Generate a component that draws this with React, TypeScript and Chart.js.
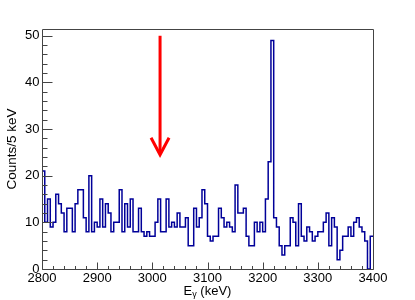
import { useEffect, useRef } from "react";
import { Chart, registerables } from "chart.js";

Chart.register(...registerables);

// Histogram: 5 keV bins from 2800 to 3400 keV
const BIN_START = 2800;
const BIN_WIDTH = 5;
const COUNTS = [
  21, 10, 15, 9, 10, 16, 14, 12, 8, 13,
  13, 8, 14, 17, 17, 11, 8, 20, 8, 10,
  9, 15, 9, 14, 12, 8, 10, 10, 17, 8,
  14, 9, 15, 8, 8, 13, 8, 7, 8, 7,
  7, 10, 15, 8, 8, 15, 9, 10, 9, 12,
  9, 9, 11, 5, 5, 13, 9, 11, 17, 14,
  7, 6, 7, 7, 13, 11, 9, 10, 9, 8,
  18, 12, 12, 13, 7, 5, 5, 10, 8, 10,
  8, 15, 23, 49, 11, 9, 5, 3, 5, 5,
  11, 10, 5, 14, 7, 6, 9, 8, 6, 7,
  8, 8, 10, 12, 5, 11, 9, 2, 4, 7,
  7, 9, 7, 10, 11, 9, 8, 6, 0, 7,
];

const X_MIN = 2800;
const X_MAX = 3400;
const Y_MIN = 0;
const Y_MAX = 51.45;
const X_MAJOR_TICKS = [2800, 2900, 3000, 3100, 3200, 3300, 3400];
const X_MINOR_STEP = 20;
const Y_MAJOR_TICKS = [0, 10, 20, 30, 40, 50];
const Y_MINOR_STEP = 2;

const X_TITLE_MAIN = "E";
const X_TITLE_SUB = "γ";
const X_TITLE_REST = " (keV)";
const Y_TITLE = "Counts/5 keV";

// Red arrow marker (energy, from count to count)
const ARROW_E = 3014;
const ARROW_FROM = 50;
const ARROW_TO = 24.5;

const FONT = "'Liberation Sans', Arial, Helvetica, sans-serif";

const framePlugin = {
  id: "rootFrame",
  afterDraw(chart: any) {
    const { ctx, chartArea, scales } = chart;
    const xs = scales.x;
    const ys = scales.y;
    const L = Math.round(chartArea.left) + 0.5;
    const R = Math.round(chartArea.right) + 0.5;
    const T = Math.round(chartArea.top) + 0.5;
    const B = Math.round(chartArea.bottom) + 0.5;

    // red arrow
    ctx.save();
    const ax = xs.getPixelForValue(ARROW_E);
    const ay1 = ys.getPixelForValue(ARROW_FROM);
    const ay2 = ys.getPixelForValue(ARROW_TO);
    ctx.strokeStyle = "#ff0000";
    ctx.lineWidth = 3;
    ctx.lineCap = "butt";
    ctx.lineJoin = "miter";
    ctx.beginPath();
    ctx.moveTo(ax, ay1);
    ctx.lineTo(ax, ay2 - 1);
    ctx.stroke();
    ctx.beginPath();
    ctx.moveTo(ax - 9, ay2 - 17);
    ctx.lineTo(ax, ay2);
    ctx.lineTo(ax + 9, ay2 - 17);
    ctx.stroke();
    ctx.restore();

    ctx.save();
    ctx.strokeStyle = "#444";
    ctx.lineWidth = 1;
    ctx.beginPath();
    ctx.rect(L, T, R - L, B - T);
    ctx.stroke();

    // x ticks
    ctx.beginPath();
    for (let v = X_MIN; v <= X_MAX + 1e-6; v += X_MINOR_STEP) {
      const px = Math.round(xs.getPixelForValue(v)) + 0.5;
      const major = X_MAJOR_TICKS.includes(v);
      ctx.moveTo(px, B);
      ctx.lineTo(px, B - (major ? 7 : 3.5));
    }
    // y ticks
    for (let v = Y_MIN; v <= Y_MAX + 1e-6; v += Y_MINOR_STEP) {
      const py = Math.round(ys.getPixelForValue(v)) + 0.5;
      const major = Y_MAJOR_TICKS.includes(v);
      ctx.moveTo(L, py);
      ctx.lineTo(L + (major ? 10 : 5), py);
    }
    ctx.stroke();

    ctx.fillStyle = "#000";
    ctx.font = `13px ${FONT}`;
    ctx.textAlign = "center";
    ctx.textBaseline = "top";
    X_MAJOR_TICKS.forEach((v) => {
      ctx.fillText(String(v), xs.getPixelForValue(v), B + 2.5);
    });
    ctx.textAlign = "right";
    ctx.textBaseline = "middle";
    Y_MAJOR_TICKS.forEach((v) => {
      ctx.fillText(String(v), L - 3, ys.getPixelForValue(v));
    });

    // x title
    const cx = (chartArea.left + chartArea.right) / 2;
    ctx.textBaseline = "alphabetic";
    ctx.textAlign = "left";
    const mainFont = `13px ${FONT}`;
    const subFont = `9px ${FONT}`;
    ctx.font = mainFont;
    const w1 = ctx.measureText(X_TITLE_MAIN).width;
    const w3 = ctx.measureText(X_TITLE_REST).width;
    ctx.font = subFont;
    const w2 = ctx.measureText(X_TITLE_SUB).width;
    let tx = cx - (w1 + w2 + w3) / 2;
    const base = 294.5;
    ctx.font = mainFont;
    ctx.fillText(X_TITLE_MAIN, tx, base);
    tx += w1;
    ctx.font = subFont;
    ctx.fillText(X_TITLE_SUB, tx, base + 2);
    tx += w2;
    ctx.font = mainFont;
    ctx.fillText(X_TITLE_REST, tx, base);

    // y title
    ctx.translate(12, (chartArea.top + chartArea.bottom) / 2);
    ctx.rotate(-Math.PI / 2);
    ctx.textAlign = "center";
    ctx.textBaseline = "middle";
    ctx.font = `13.5px ${FONT}`;
    ctx.fillText(Y_TITLE, 0, 0);
    ctx.restore();
  },
};

export default function App() {
  const ref = useRef<HTMLCanvasElement | null>(null);
  useEffect(() => {
    if (!ref.current) return;
    const pts = COUNTS.map((c, i) => ({ x: BIN_START + i * BIN_WIDTH, y: c }));
    pts.push({ x: BIN_START + COUNTS.length * BIN_WIDTH, y: COUNTS[COUNTS.length - 1] });
    const chart = new Chart(ref.current, {
      type: "line",
      data: {
        datasets: [
          {
            data: pts,
            stepped: "before",
            borderColor: "#000099",
            borderWidth: 1.5,
            pointRadius: 0,
            fill: false,
            tension: 0,
          },
        ],
      },
      options: {
        animation: false,
        responsive: false,
        events: [],
        layout: { padding: { left: 42, right: 42, top: 29, bottom: 31 } },
        plugins: { legend: { display: false }, tooltip: { enabled: false } },
        scales: {
          x: { type: "linear", min: X_MIN, max: X_MAX, display: false },
          y: { type: "linear", min: Y_MIN, max: Y_MAX, display: false },
        },
      },
      plugins: [framePlugin],
    });
    return () => chart.destroy();
  }, []);
  return (
    <div style={{ position: "absolute", left: 0, top: 0, width: 415, height: 300, background: "#fff" }}>
      <canvas ref={ref} width={415} height={300} />
    </div>
  );
}
